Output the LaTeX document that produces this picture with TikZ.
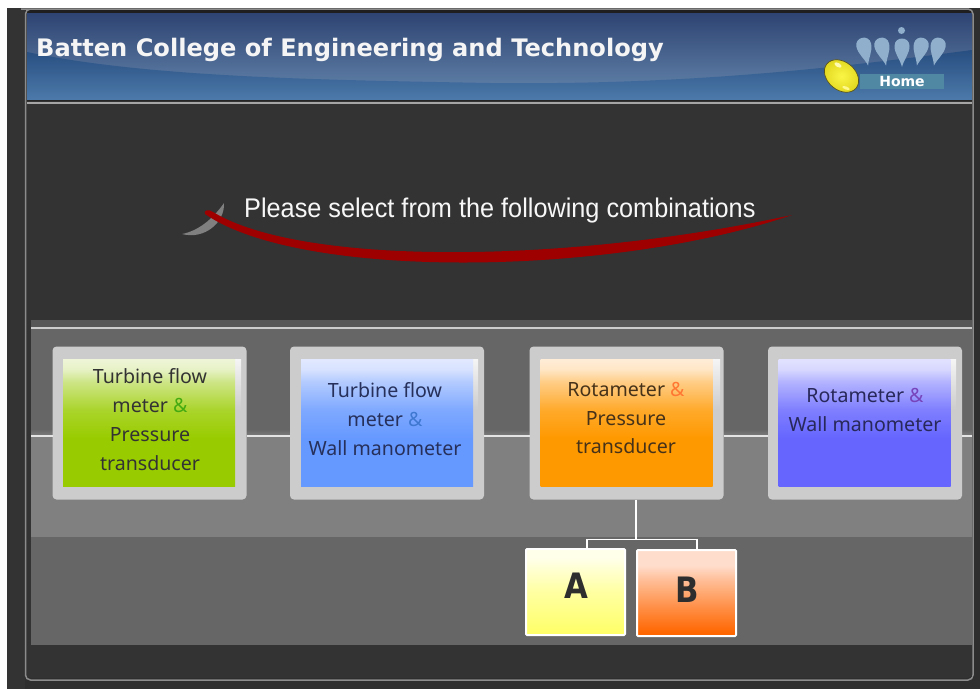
\documentclass[tikz,border=0pt]{standalone}
\usepackage{fontspec}
\setmainfont{Liberation Sans}
\newfontfamily\boxfont{Noto Sans}
\newfontfamily\headfont{DejaVu Sans}
\newcommand{\defshade}[3]{%
  \pgfdeclareverticalshading{#1}{100bp}{%
    color(0bp)=(#2); color(25bp)=(#2); color(44bp)=(#2);
    color(55bp)=(#2!80!#3); color(66bp)=(#2!38!#3);
    color(71bp)=(#2!8!#3); color(75bp)=(#3); color(100bp)=(#3)}}
\definecolor{cgreen}{HTML}{99CC00}\definecolor{tgreen}{HTML}{EEF5D8}
\definecolor{cblue}{HTML}{6699FF}\definecolor{tblue}{HTML}{E2E9FF}
\definecolor{corange}{HTML}{FF9900}\definecolor{torange}{HTML}{FFEDD8}
\definecolor{cviolet}{HTML}{6666FF}\definecolor{tviolet}{HTML}{E2E2FF}
\definecolor{cyel}{HTML}{FFFF66}\definecolor{tyel}{HTML}{FFFFEA}
\definecolor{cred}{HTML}{FF6600}\definecolor{tred}{HTML}{FFDDCC}
\defshade{shgreen}{cgreen}{tgreen}
\defshade{shblue}{cblue}{tblue}
\defshade{shorange}{corange}{torange}
\defshade{shviolet}{cviolet}{tviolet}
\pgfdeclareverticalshading{shyel}{100bp}{color(0bp)=(cyel); color(25bp)=(cyel); color(50bp)=(cyel!55!tyel); color(70bp)=(tyel); color(100bp)=(tyel)}
\pgfdeclareverticalshading{shred}{100bp}{color(0bp)=(cred); color(27bp)=(cred); color(42bp)=(cred!65!tred); color(58bp)=(cred!25!tred); color(66bp)=(tred); color(100bp)=(tred)}
\definecolor{pincol}{HTML}{8FAFCC}
\tikzset{
  outerbox/.style={fill=black!20,rounded corners=4pt,inner sep=0,outer sep=0,minimum width=194,minimum height=153},
  innerbox/.style={inner sep=0,outer sep=0,minimum width=172,minimum height=127},
  labeltext/.style={font=\boxfont\fontsize{19.6}{28.8}\selectfont,align=center,inner sep=0},
  subbox/.style={draw=white,line width=2pt,rounded corners=1pt,inner sep=0,outer sep=0,minimum width=99,minimum height=86},
  letter/.style={font=\headfont\bfseries\fontsize{35}{35}\selectfont,text=black!82,inner sep=0,xscale=.88},
  wire/.style={draw=black!10,line width=2pt},
  fork/.style={draw=white,line width=1.6pt},
  strip/.style={top color=black!4,bottom color=black!20},
  pin/.style={fill=pincol}
}
\newcommand{\droppin}[3]{\begin{scope}[shift={(#1,#2)},rotate=#3]
  \path[pin] (0,15) .. controls (-2,7) and (-7.5,2) .. (-7.5,-6) .. controls (-7.5,-16) and (7.5,-16) .. (7.5,-6) .. controls (7.5,2) and (2,7) .. (0,15) -- cycle;
\end{scope}}
\begin{document}
\begin{tikzpicture}[x=1pt,y=-1pt]
\useasboundingbox (0,0) rectangle (980,689);
\fill[white] (0,0) rectangle (980,689);
% outer dark
\fill[black!82] (7,8) rectangle (980,689);
\fill[black!80] (7,8) rectangle (25,689);
% panel
\fill[black!80,rounded corners=5pt] (26,10) rectangle (972,678);
\fill[black!88] (27,10) rectangle (972,13);
% header
\begin{scope}
  \clip (27,13) rectangle (972,100);
  \shade[top color={rgb,255:red,46;green,68;blue,114},bottom color={rgb,255:red,92;green,124;blue,164}] (27,13) rectangle (972,85);
  \shade[top color={rgb,255:red,40;green,78;blue,128},bottom color={rgb,255:red,76;green,122;blue,170}]
    (27,52) .. controls (150,78) and (330,80) .. (490,83) .. controls (680,85) and (820,70) .. (972,50) -- (972,100) -- (27,100) -- cycle;
\end{scope}
\draw[black!85,line width=1pt] (27,100.5) -- (972,100.5);
\draw[black!35,line width=2pt] (27,103) -- (972,103);
\draw[black!45,line width=1.5pt,rounded corners=5pt] (25.5,100) |- (26,9) -| (973,680) -| (25.5,100);
\node[font=\headfont\bfseries\fontsize{24.1}{24}\selectfont,text=black!4,anchor=base west,inner sep=0] (title) at (36,56) {Batten College of Engineering and Technology};
% icons
\droppin{865}{51}{12}
\droppin{883}{51}{12}
\droppin{902}{52}{0}
\droppin{920}{51}{-12}
\droppin{937}{51}{-12}
\fill[pincol] (901.5,30.5) circle (3.5);
\node[fill={rgb,255:red,80;green,136;blue,164},minimum width=84,minimum height=15,inner sep=0,font=\headfont\bfseries\fontsize{14}{14}\selectfont,text=white] (home) at (902,81) {Home};
\shade[draw={rgb,255:red,90;green,85;blue,30},line width=.7pt,inner color={rgb,255:red,250;green,245;blue,70},outer color={rgb,255:red,225;green,215;blue,30},rotate around={-40:(841.5,76)}] (841.5,76) ellipse (19 and 14);
\fill[white!70!yellow,rotate around={-30:(838,65)}] (838,65) ellipse (4 and 2);
\fill[white!55!yellow,rotate around={-20:(846,88)}] (846,88) ellipse (4 and 1.5);
% swoosh
\fill[black!50] (224,203) .. controls (225,222) and (205,240) .. (182,234) .. controls (198,231) and (213,219) .. (224,203) -- cycle;
\fill[red!62!black] (205,214) .. controls (203,210) and (209,209) .. (213,212) .. controls (300,265) and (560,265) .. (792,215) .. controls (610,277) and (300,280) .. (205,214) -- cycle;
\node[font=\fontsize{27}{27}\selectfont,text=black!3,anchor=base west,inner sep=0,xscale=.936] (prompt) at (244,217) {Please select from the following combinations};
% bands
\fill[black!66] (31,320) rectangle (972,327);
\fill[black!60] (31,327) rectangle (972,430);
\shade[top color=black!60,bottom color=black!50] (31,429) rectangle (972,437);
\fill[black!50] (31,436) rectangle (972,537);
\fill[black!60] (31,537) rectangle (972,645);
\fill[black!80] (31,645) rectangle (972,677);
\draw[black!20,line width=2pt] (31,328) -- (972,328);
% boxes
\coordinate (railL) at (31,436);
\coordinate (railR) at (972,436);
\node[outerbox] (b1) at (149.5,423) {};
\node[outerbox] (b2) at (387,423) {};
\node[outerbox] (b3) at (626.5,423) {};
\node[outerbox] (b4) at (865,423) {};
\draw[wire] (railL) -- (railL -| b1.west);
\draw[wire] (railL -| b1.east) -- (railL -| b2.west);
\draw[wire] (railL -| b2.east) -- (railL -| b3.west);
\draw[wire] (railL -| b3.east) -- (railL -| b4.west);
\draw[wire] (railL -| b4.east) -- (railR);
\fill[strip] (235,359) rectangle (241,410);
\fill[strip] (473,359) rectangle (478,410);
\fill[strip] (712,359) rectangle (720,410);
\fill[strip] (950,359) rectangle (956,410);
\node[innerbox,shading=shgreen] (i1) at (149,422.5) {};
\node[innerbox,shading=shblue] (i2) at (387,422.5) {};
\node[innerbox,shading=shorange] (i3) at (626.5,422.5) {};
\node[innerbox,shading=shviolet] (i4) at (864.5,422.5) {};
\node[labeltext,text=black!80] (t1) at (150,419.5) {Turbine flow\\meter {\color[HTML]{44AA11}\&}\\Pressure\\transducer};
\node[labeltext,text={rgb,255:red,38;green,48;blue,90}] (t2) at (385,419) {Turbine flow\\meter {\color[HTML]{3F78D0}\&}\\Wall manometer};
\node[labeltext,text={rgb,255:red,70;green,50;blue,25}] (t3) at (626,418) {Rotameter {\color[HTML]{FF7733}\&}\\Pressure\\transducer};
\node[labeltext,text={rgb,255:red,40;green,40;blue,90}] (t4) at (865,410) {Rotameter {\color[HTML]{7744BB}\&}\\Wall manometer};
% sub boxes
\node[subbox,shading=shyel] (A) at (575.5,592) {};
\node[subbox,shading=shred] (B) at (686.5,593) {};
\node[letter] (la) at (576,586) {A};
\node[letter] (lb) at (687,590) {B};
\draw[fork,line width=2pt] ([xshift=9.5]b3.south) -- ++(0,40) coordinate (forkpt);
\draw[fork] ([xshift=11.5]A.north) |- (forkpt) -| ([xshift=10.5]B.north);
\end{tikzpicture}
\end{document}
